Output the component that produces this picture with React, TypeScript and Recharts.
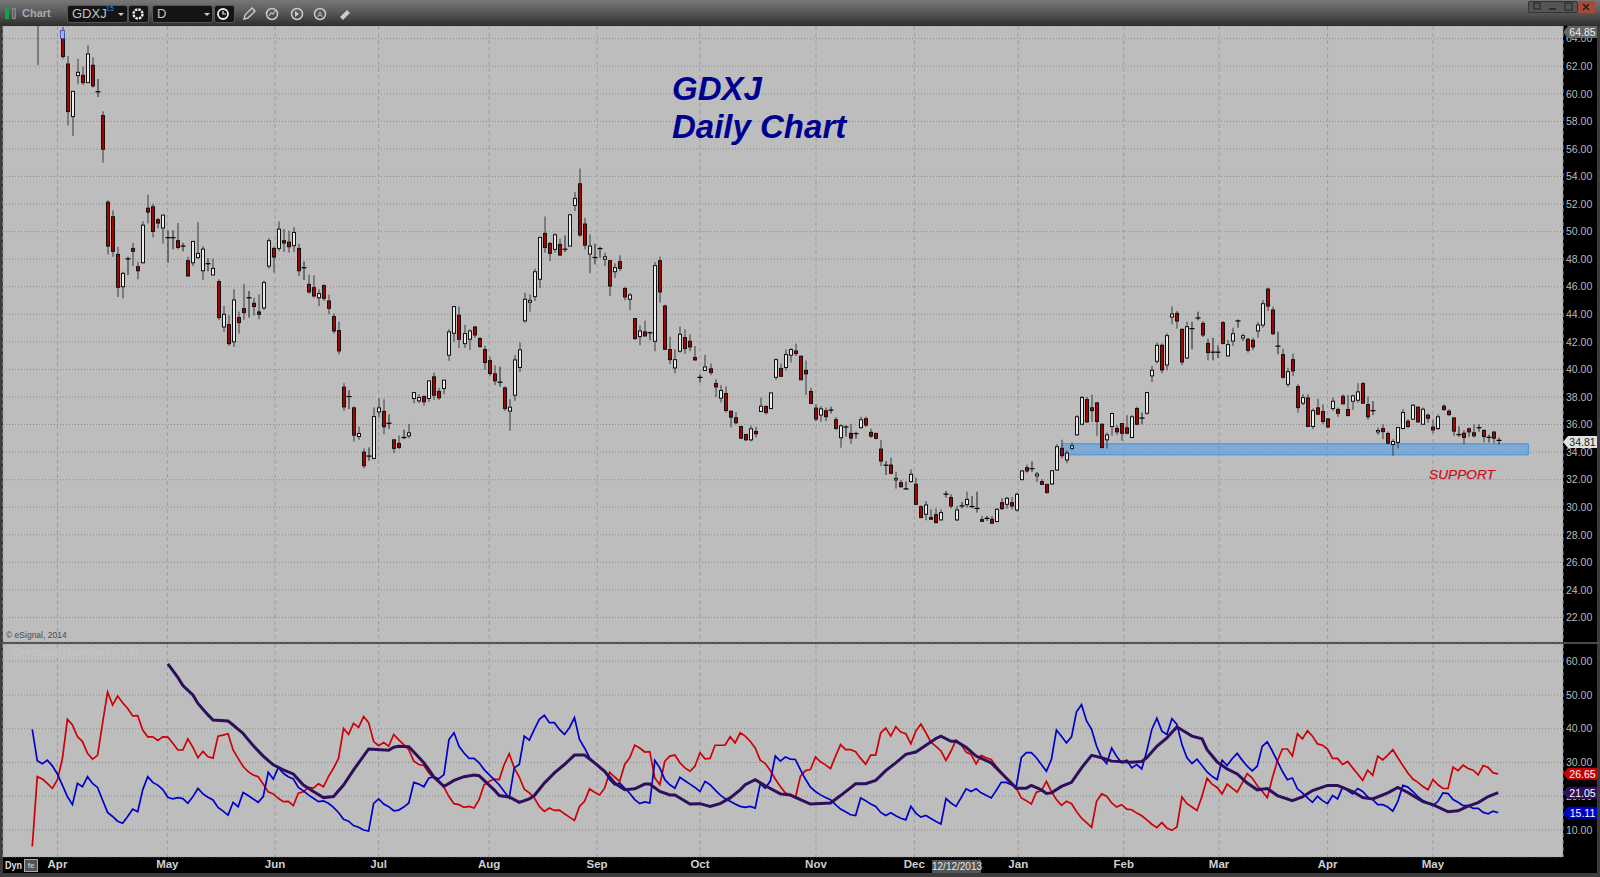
import React from "react";
import { ComposedChart, Bar, Line, XAxis, YAxis, CartesianGrid, ReferenceArea, ReferenceLine, ReferenceDot } from "recharts";

type Row = [number, number, number, number] | null; // open, high, low, close

const ohlcA: Row[] = [
[68,70,62.1,67],null,null,null,null,[64.4,64.85,62.55,62.7],[62.16,62.75,57.7,58.71],[58.35,60.2,56.95,60.18],[61.32,62.53,60.69,61.56],[61.34,61.97,60.64,60.81],
[60.81,63.52,60.8,62.89],[62.07,62.65,60.45,60.57],[60.15,61.08,59.77,60.1],[58.42,58.73,55.01,55.98],[52.14,52.26,48.35,48.95],[51.08,51.54,48.18,48.57],[48.35,48.9,45.26,45.96],[46.0,47.09,45.16,46.97],[47.98,48.18,46.85,48.02],[48.78,49.17,47.5,48.57],
[47.45,47.8,46.54,47.16],[47.74,50.74,47.7,50.47],[51.7,52.67,50.6,51.42],[51.8,52.02,49.58,50.01],[50.86,51.0,50.23,50.62],[50.26,51.2,49.14,51.2],[49.56,50.09,47.74,49.56],[49.56,50.09,48.71,49.54],[49.34,50.62,48.71,48.85],[48.95,49.19,48.57,48.93],
[47.89,48.18,46.73,46.78],[47.74,49.29,47.5,49.29],[48.11,50.69,48.03,48.42],[47.16,48.95,46.49,48.73],[47.67,48.06,47.12,47.65],[46.85,48.03,46.85,47.33],[46.37,46.54,43.59,43.76],[43.08,44.6,42.72,44.0],[43.25,43.95,41.7,41.87],[42.0,45.81,41.63,45.04],
[43.76,44.19,42.6,43.4],[44.41,46.2,43.59,44.12],[45.2,45.69,43.76,45.2],[44.8,45.2,43.93,44.56],[44.17,45.45,43.64,44.0],[44.46,46.44,44.31,46.3],[47.5,49.53,47.31,49.34],[48.78,48.9,47.02,48.15],[48.78,50.74,48.59,50.18],[49.34,50.2,48.52,49.17],
[49.24,50.06,48.47,48.9],[48.98,50.33,48.52,49.94],[48.78,49.12,46.78,47.16],[47.38,47.84,46.49,47.36],[46.17,46.87,45.5,45.62],[45.93,46.83,45.2,45.33],[45.2,45.81,44.6,45.5],[46.08,46.17,44.97,45.16],[44.97,45.43,44.0,44.43],[43.83,44.07,42.6,42.79],
[42.82,43.47,41.1,41.34],[38.71,39.0,37.0,37.28],[38.03,38.49,37.12,38.01],[37.21,37.31,34.77,35.23],[35.13,35.86,34.89,35.35],[34.0,34.27,32.82,33.01],[33.71,34.34,33.37,33.69],[33.54,37.24,33.49,36.58],[36.92,37.91,36.51,37.21],[36.95,37.84,35.3,35.84],
[36.09,36.73,35.67,36.07],[34.89,34.94,33.93,34.27],[34.63,35.2,34.22,34.34],
];
const ohlcB: Row[] = [
[35.06,35.62,34.94,35.04],[35.18,36.05,35.0,35.4],[37.89,38.32,37.55,38.32],[37.72,38.2,37.55,37.96],[38.03,38.13,37.36,37.65],[37.89,39.22,37.65,39.17],[39.46,39.77,37.79,38.13],
[38.4,38.66,37.79,37.94],[38.61,39.22,38.2,39.22],[41.03,42.91,40.62,42.72],[42.62,44.56,42.0,44.56],[43.93,44.56,41.56,42.19],[41.87,43.23,41.56,42.6],[42.19,42.91,41.42,42.79],[43.08,43.15,42.29,42.5],[42.24,42.36,41.56,41.66],[41.44,41.7,39.97,40.5],
[40.64,40.93,39.53,39.7],[39.68,40.3,38.86,39.17],[39.07,40.2,38.75,39.05],[38.66,38.76,36.99,37.16],[36.97,37.84,35.55,37.26],[38.13,41.03,37.72,40.69],[40.14,41.95,39.82,41.42],[43.52,45.57,43.4,45.09],[44.87,45.43,44.19,45.01],[45.28,47.31,44.97,47.09],
[46.54,49.63,45.91,49.58],[49.87,51.1,48.47,48.85],[49.14,49.24,47.86,48.42],[48.71,49.87,48.47,49.77],[49.07,49.48,48.23,48.3],[48.72,49.72,48.52,48.7],[48.95,51.27,48.95,51.22],[51.9,52.86,51.49,52.41],[53.47,54.58,49.63,49.75],[50.55,51.0,48.71,49.02],
[48.37,49.8,46.97,48.95],[48.12,49.12,47.62,48.1],[48.77,48.9,48.1,48.75],[48.0,48.47,47.5,48.18],[47.89,47.89,45.33,46.05],[47.09,47.7,46.63,47.38],[47.82,48.28,47.14,47.33],[45.88,45.96,45.01,45.26],[45.09,45.52,44.29,45.4],[43.69,43.69,42.14,42.24],
[42.38,43.2,41.75,42.79],[42.72,43.54,42.36,42.43],[42.66,42.74,42.12,42.64],[42.04,47.79,41.32,47.53],[47.89,48.18,44.85,45.62],[44.6,44.7,41.46,41.46],[41.44,42.38,40.38,40.71],[40.11,41.46,39.72,40.71],[41.32,43.11,41.22,42.55],[42.31,42.91,41.13,41.51],
[42.04,42.55,41.32,41.63],[40.86,41.7,40.64,40.69],[39.42,39.65,39.05,39.4],[39.92,41.05,39.89,40.18],[40.04,40.43,39.58,39.77],[38.98,39.29,38.0,38.73],[37.91,38.86,37.6,38.47],[38.25,38.76,36.87,37.02],[36.97,37.0,35.79,36.54],[36.49,36.9,36.03,36.13],
[35.86,35.86,34.94,35.01],[35.28,35.28,34.82,34.89],[34.89,35.93,34.77,35.69],[35.5,35.84,35.06,35.33],[36.95,37.96,36.95,37.33],[37.31,37.4,36.73,36.87],[37.16,38.3,37.16,38.3],[39.43,40.79,39.24,40.71],[40.06,40.43,39.46,39.5],[40.14,41.46,39.92,41.08],
[41.03,41.54,40.5,41.44],[41.34,41.87,40.98,41.15],[40.96,41.0,39.25,39.25],
];
const ohlcC: Row[] = [
[39.92,40.65,38.14,39.68],[38.4,38.67,37.48,37.53],[37.19,37.48,36.25,36.4],[36.69,37.34,36.2,37.14],[37.0,37.24,36.25,36.57],[37.05,37.29,36.8,37.03],[36.35,36.54,35.6,35.72],[35.04,36.01,34.32,35.91],
[35.82,35.94,35.12,35.8],[35.36,36.06,34.61,35.02],[35.34,35.48,34.97,35.32],[35.77,36.57,35.72,36.35],[36.42,36.57,35.84,35.96],[35.43,35.7,35.04,35.16],[35.36,35.36,34.92,35.0],[34.22,34.87,32.99,33.35],[33.05,33.35,32.34,33.03],[33.06,33.6,32.39,32.46],
[31.98,32.58,31.35,32.1],[31.78,31.98,31.42,31.49],[31.33,31.86,31.25,31.31],[31.86,32.75,31.78,32.39],[31.66,32.14,30.16,30.21],[30.04,30.14,29.2,29.25],[29.49,30.45,29.05,30.16],[29.25,29.85,29.08,29.13],[29.46,29.92,28.84,28.88],[29.08,29.85,29.05,29.61],
[30.95,31.18,30.7,30.93],[30.7,30.95,29.92,30.09],[29.08,30.09,29.0,29.8],[30.1,30.38,29.92,30.08],[30.19,31.13,29.97,30.57],[30.05,30.82,29.92,30.03],[29.91,31.13,29.61,29.89],[29.1,29.37,28.96,28.98],[29.19,29.37,29.0,29.17],[29.13,29.37,28.81,28.84],
[28.96,29.92,28.91,29.85],[30.33,30.67,29.8,29.9],[30.21,30.74,29.9,30.65],[30.33,30.74,29.85,30.09],[29.8,31.06,29.68,30.94],[32.0,32.7,31.98,32.63],[32.87,33.09,32.51,32.63],[32.8,33.33,32.56,32.78],[32.27,32.56,31.83,32.41],[31.86,32.05,31.61,31.66],
[31.66,31.66,31.0,31.06],[31.69,32.7,31.61,32.65],[32.7,34.58,32.63,34.39],[34.27,34.9,33.55,33.74],[33.43,34.13,33.18,33.93],[34.27,34.68,34.15,34.46],[35.25,36.68,35.23,36.56],[36.02,38.08,35.95,37.96],[37.81,38.0,36.14,36.19],[37.21,38.17,36.19,37.01],
[37.57,37.64,35.18,36.22],[36.02,36.07,34.28,34.33],[34.89,35.42,34.26,35.25],[35.86,36.87,35.18,36.8],[35.71,35.95,35.23,35.47],[36.07,36.07,34.82,35.37],[35.76,36.68,35.3,35.37],[35.06,36.68,35.01,36.56],[37.16,37.3,35.95,36.02],[36.47,36.87,36.02,36.45],[36.82,38.37,36.72,38.32],
];
const ohlcD: Row[] = [
[39.53,40.25,39.09,39.94],[40.59,41.94,40.42,41.75],[41.75,41.89,39.72,39.96],[40.32,42.62,39.94,42.45],[43.8,44.57,43.27,44.02],[44.07,44.24,42.96,43.51],[42.91,42.96,40.3,40.54],[40.83,43.46,40.78,43.1],[42.96,43.46,41.46,42.94],
[43.73,44.19,43.56,43.71],[43.34,43.51,42.35,42.5],[41.89,42.23,40.66,41.22],[41.25,42.3,40.66,41.23],[41.25,41.75,40.83,41.23],[43.39,43.51,41.82,41.89],[40.98,42.14,40.93,41.8],[42.06,43.03,41.7,42.59],[43.52,43.63,43.03,43.5],[42.28,42.59,42.06,42.45],
[42.18,42.3,41.22,41.39],[42.11,42.3,41.39,41.63],[42.79,43.44,42.3,43.22],[43.22,45.03,43.03,44.77],[45.83,45.93,44.24,44.6],[44.31,44.55,42.5,42.59],[41.69,42.74,41.1,41.67],[41.07,41.5,39.33,39.43],[38.92,40.13,38.75,39.84],[40.71,41.14,39.53,39.89],
[38.75,38.92,36.87,37.23],[37.55,38.2,37.4,37.96],[37.93,38.2,35.83,35.86],[35.86,37.16,35.66,37.01],[37.21,37.88,36.68,36.75],[36.94,37.47,36.02,36.22],[36.41,36.43,35.73,35.83],[37.16,37.98,36.99,37.69],[37.09,37.23,36.56,36.82],[38.05,38.17,37.47,37.5],
[37.09,38.13,36.6,36.65],[37.69,38.17,37.06,38.08],[37.76,39.0,37.59,38.37],[38.97,39.09,37.5,37.55],[37.45,38.03,36.34,36.56],[37.01,37.71,36.68,36.99],[35.47,35.78,35.25,35.57],[35.71,36.02,34.94,35.49],[35.35,35.49,34.57,34.65],[34.55,34.94,33.73,34.77],
[34.7,35.83,34.26,35.78],[35.71,37.11,35.66,36.87],[36.24,36.39,35.73,35.86],[36.39,37.47,36.34,37.4],[37.26,37.3,36.14,36.19],[36.02,37.23,35.98,37.11],[36.68,36.8,36.14,36.46],[35.81,36.34,35.37,35.61],[35.71,36.75,35.61,36.56],[37.33,37.47,36.99,37.09],
[36.97,37.11,36.63,36.72],[36.48,36.53,35.18,35.52],[35.27,35.86,35.1,35.23],[35.37,35.59,34.57,35.06],[35.69,35.78,35.11,35.47],[35.4,36.02,35.06,35.18],[35.77,36.02,35.49,35.74],[35.57,35.66,34.7,35.13],[35.07,35.28,34.7,35.04],[35.45,35.54,34.65,35.01],[34.85,35.06,34.57,34.81],
];

// Directional lines: one value per bar, starting one bar before the first candle
const redLine = [
5.1,25.8,25.1,23.8,22.3,24.8,31.1,42.8,41.1,37.7,36.2,32.7,31.0,32.1,41.6,50.9,47.0,49.7,47.7,46.0,43.8,43.9,39.6,37.6,37.6,36.5,37.6,37.5,35.7,33.7,33.7,37.0,34.5,31.4,33.3,31.7,31.3,37.8,38.1,38.5,33.7,31.2,28.8,27.3,26.3,25.8,23.6,21.3,20.7,19.4,18.4,18.5,17.2,20.9,21.3,22.6,22.4,23.7,22.8,25.8,28.3,31.2,40.1,38.3,41.6,40.4,43.6,41.8,36.2,35.0,35.9,34.8,38.3,36.7,
35.3,33.8,30.4,29.4,29.1,26.9,25.4,24.4,22.7,19.9,17.8,17.5,16.7,17.0,16.5,19.0,23.4,24.4,25.1,24.9,29.4,32.6,28.4,25.7,22.1,21.0,19.5,17.0,15.5,16.5,15.8,15.9,14.8,13.8,12.8,17.0,18.5,22.2,21.2,20.4,22.4,27.1,25.7,24.4,29.4,31.4,35.1,34.3,33.1,33.2,25.4,23.4,30.4,31.9,32.2,29.9,28.4,27.4,28.9,32.9,31.1,31.2,35.1,35.1,35.1,37.6,35.8,38.8,37.8,36.3,34.3,30.7,29.7,27.6,
25.1,22.9,21.0,20.2,19.5,25.9,27.6,27.9,31.6,30.2,29.3,28.2,31.9,35.3,33.8,33.8,33.2,31.2,29.5,32.2,32.2,38.8,40.2,37.8,40.6,39.0,38.5,35.5,39.3,41.4,38.8,36.0,34.8,33.4,30.6,33.4,36.6,35.3,33.1,32.4,29.6,32.1,31.4,30.9,28.9,27.2,25.4,23.9,22.4,19.5,18.7,17.7,21.2,21.6,24.4,21.4,19.0,17.3,18.5,17.8,15.5,13.5,12.2,10.8,18.5,20.7,20.0,18.0,16.8,17.5,16.2,16.0,15.0,14.2,13.0,11.7,10.7,12.2,10.6,
9.9,10.9,19.8,17.8,16.8,15.8,20.0,25.3,23.6,22.6,20.7,23.6,22.4,21.2,23.9,26.7,25.4,23.2,21.4,19.6,25.4,30.4,34.0,34.0,31.9,38.5,37.0,39.4,37.8,35.5,35.1,34.0,31.2,31.2,29.4,30.3,28.4,26.6,24.7,27.7,26.2,31.9,30.8,32.2,33.8,31.4,29.1,26.9,25.1,24.1,22.9,21.9,24.9,23.4,22.3,22.3,28.6,27.6,29.2,28.2,27.7,26.3,29.1,28.5,26.9,26.65,
];
const blueLine = [
39.8,30.5,29.6,30.7,29.0,26.6,23.3,19.9,17.5,23.8,22.8,25.8,23.8,22.6,18.9,15.2,14.0,12.6,12.0,14.0,16.2,15.4,21.9,25.8,24.1,23.3,22.0,19.7,19.2,19.6,19.3,17.9,19.9,22.3,20.7,19.7,18.9,16.7,15.6,14.4,18.2,16.9,21.1,20.2,19.2,18.2,19.9,27.1,25.1,28.5,26.8,25.8,25.1,22.6,21.6,20.4,19.4,18.4,18.6,17.9,16.7,15.2,13.2,12.6,11.3,10.8,10.0,9.7,17.9,19.2,17.7,16.9,15.7,15.9,
16.8,18.0,24.1,23.6,22.8,25.4,25.7,25.2,26.4,36.8,38.8,34.8,32.8,31.2,31.2,29.9,27.9,26.4,24.9,23.4,21.4,19.5,28.4,29.4,37.8,36.6,39.8,42.8,44.0,41.8,41.8,39.8,38.3,40.3,43.3,36.8,34.3,31.4,29.9,28.7,27.4,24.9,23.4,23.9,22.4,20.9,19.0,17.8,18.3,18.0,30.6,28.4,24.9,23.4,22.4,25.6,24.6,23.6,22.6,21.4,24.4,23.4,21.9,20.4,19.3,18.5,17.7,17.0,16.7,17.0,16.5,23.7,22.4,24.5,31.9,30.4,
31.6,31.0,30.9,27.9,25.1,22.7,21.4,20.4,19.6,19.0,17.5,16.2,15.4,14.5,14.3,19.5,18.7,17.7,17.0,15.2,14.3,15.1,14.2,13.5,13.0,17.0,15.0,13.8,14.3,13.4,12.5,11.8,19.3,18.0,17.0,19.5,22.2,21.4,22.2,21.0,20.3,19.5,21.7,24.1,24.1,23.4,22.9,31.4,32.9,32.9,31.4,29.4,27.4,30.9,39.6,37.8,35.8,37.6,45.0,47.1,42.3,39.8,34.8,31.4,29.7,34.3,31.8,29.9,30.7,28.4,29.4,28.1,33.4,39.8,43.1,39.3,38.3,
43.0,41.3,35.3,31.4,29.7,31.0,29.1,27.2,25.9,24.9,30.7,29.1,31.1,32.7,30.7,28.9,27.5,28.9,34.8,36.1,33.4,30.4,27.4,24.9,25.4,22.2,21.0,19.5,18.2,20.0,18.7,17.8,20.2,19.2,22.7,21.7,20.7,22.3,21.4,19.8,19.0,17.5,17.5,16.8,15.6,18.5,23.2,22.7,21.4,19.9,18.7,18.0,17.2,18.5,21.0,20.8,19.0,18.2,17.2,17.2,16.4,16.4,15.2,14.8,15.6,15.11,
];
// ADX turning points: [bar, value]
const purplePoints: [number, number][] = [
[26,59.2],[28,55.2],[29,52.8],[31,50.0],[32,47.5],[34,44.1],[35,42.6],[38,42.3],[39,41.1],[41,38.6],[43,35.0],[45,31.9],[47,29.3],[49,27.8],[51,26.6],[53,23.3],[55,21.4],[57,19.6],[59,19.9],[61,23.3],[63,27.8],[66,34.0],[70,33.6],[71,34.5],[72,34.8],[74,34.7],[75,33.1],[77,29.9],[78,27.9],[79,25.7],[81,22.9],[83,24.7],[85,25.8],[87,26.3],[88,26.1],[89,24.7],[91,21.9],[92,20.2],[94,19.8],[96,18.2],[98,19.2],[99,20.2],[101,23.9],[103,26.9],[105,29.4],[107,32.2],[109,32.2],[111,29.9],[113,27.4],[115,23.9],[117,21.9],[119,22.2],[121,23.6],[122,23.6],[124,21.4],[126,20.4],[127,20.4],[128,19.5],[130,17.7],[132,17.8],[134,17.0],[136,17.8],[138,19.5],[140,21.9],[141,23.4],[143,24.9],[145,23.1],[148,20.7],[150,20.4],[152,19.0],[154,17.7],[158,18.0],[160,20.2],[163,23.7],[165,23.7],[167,24.7],[169,27.6],[171,29.9],[173,32.4],[175,33.1],[177,35.1],[179,37.1],[180,37.8],[182,36.3],[183,36.3],[185,34.5],[187,31.9],[190,29.9],[192,26.9],[195,22.4],[197,22.4],[198,23.2],[200,21.9],[201,20.8],[202,21.0],[204,22.9],[206,24.1],[208,28.4],[210,32.1],[212,31.4],[214,30.4],[218,30.1],[220,30.3],[221,31.4],[223,34.8],[225,37.3],[227,40.5],[228,39.6],[230,37.8],[232,37.0],[233,33.8],[235,30.2],[237,28.1],[239,26.6],[241,23.9],[243,21.9],[245,22.3],[247,20.2],[250,18.7],[252,19.8],[254,21.7],[257,23.2],[259,23.2],[262,21.4],[264,19.6],[266,19.2],[269,21.0],[271,22.6],[273,21.1],[276,18.4],[278,17.5],[281,15.4],[283,15.7],[285,17.1],[287,18.1],[289,19.9],[291,21.05],
];

const monthTicks = [4.02, 25.9, 47.35, 68.0, 90.0, 111.5, 132.0, 155.1, 174.7, 195.4, 216.4, 235.4, 257.0, 278.0];
const monthNames = ["Apr", "May", "Jun", "Jul", "Aug", "Sep", "Oct", "Nov", "Dec", "Jan", "Feb", "Mar", "Apr", "May"];
const priceTicks = [22,24,26,28,30,32,34,36,38,40,42,44,46,48,50,52,54,56,58,60,62,64];
const dmiTicks = [10,20,30,40,50,60];
const xDomain: [number, number] = [-6.83, 303.9];
const priceDomain: [number, number] = [20.22, 64.92];
const dmiDomain: [number, number] = [2, 65.1];
const support = { fromBar: 204.06, toBar: 297, low: 33.8, high: 34.6 };

const allRows = [...ohlcA, ...ohlcB, ...ohlcC, ...ohlcD];
const priceData = allRows.map((r, i) => ({
  idx: i,
  open: r ? r[0] : null,
  high: r ? r[1] : null,
  low: r ? r[2] : null,
  close: r ? r[3] : null,
}));
const purpleMap = new Map(purplePoints);
const dmiData = redLine.map((v, k) => ({
  idx: k - 1,
  red: v,
  blue: blueLine[k],
  purple: purpleMap.has(k - 1) ? purpleMap.get(k - 1) : null,
}));

function Candle(props: any) {
  const { x, y, width, height, payload } = props;
  if (!payload || payload.high == null || height == null) return null;
  const { open, high, low, close } = payload;
  const py = (v: number) => y + ((high - v) / (high - low)) * height;
  const cx = Math.round(x + width / 2);
  const top = py(Math.max(open, close));
  const bot = py(Math.min(open, close));
  const down = close < open;
  const doji = Math.abs(open - close) < 0.05;
  return (
    <g>
      <line x1={cx} x2={cx} y1={y} y2={y + height} stroke={doji ? "#1c1c1c" : "#3a3a3a"} strokeWidth={1} />
      {doji ? (
        <line x1={cx - 2.5} x2={cx + 2.5} y1={top} y2={top} stroke="#000" strokeWidth={1.2} />
      ) : (
        <rect x={cx - 1.5} y={top} width={3} height={Math.max(bot - top, 1.5)} fill={down ? "#a80000" : "#ececec"} stroke="#111" strokeWidth={1} />
      )}
    </g>
  );
}

function Chip({ viewBox, text, bg, fg, dy = 0 }: any) {
  const px = viewBox.x + viewBox.width;
  const cy = viewBox.y + dy;
  return (
    <g>
      <polygon points={`${px},${cy} ${px + 5},${cy - 6} ${px + 34},${cy - 6} ${px + 34},${cy + 6} ${px + 5},${cy + 6}`} fill={bg} />
      <text x={px + 19.5} y={cy + 4} textAnchor="middle" fontSize={10.5} fontFamily="Liberation Sans, Arial, sans-serif" fill={fg}>{text}</text>
    </g>
  );
}

const axisTick = { fill: "#b6babe", fontSize: 10.5, fontFamily: "Liberation Sans, Arial, sans-serif" };
const fmt = (v: number) => v.toFixed(2);

function Btn({ x, w, children }: any) {
  return (
    <div style={{ position: "absolute", left: x, top: 5, width: w, height: 18, background: "#141414", border: "1px solid #555", borderRadius: 3, boxSizing: "border-box", color: "#c4c4c4", fontSize: 13, lineHeight: "16px", paddingLeft: 4 }}>{children}</div>
  );
}

function Toolbar() {
  return (
    <div style={{ position: "absolute", left: 0, top: 0, width: 1600, height: 26, background: "linear-gradient(#777 0%, #5e5e5e 40%, #2e2e2e 100%)", fontFamily: "Liberation Sans, Arial, sans-serif", zIndex: 5 }}>
      <div style={{ position: "absolute", left: 5, top: 8, width: 4, height: 11, background: "#18a050" }} />
      <div style={{ position: "absolute", left: 12, top: 8, width: 4, height: 11, background: "#666", border: "1px solid #888", boxSizing: "border-box" }} />
      <div style={{ position: "absolute", left: 22, top: 7, color: "#aaa", fontWeight: 700, fontSize: 11 }}>Chart</div>
      <Btn x={67} w={61}>GDXJ</Btn>
      <div style={{ position: "absolute", left: 106, top: 5, color: "#2a8ce8", fontSize: 7 }}>15</div>
      <div style={{ position: "absolute", left: 118, top: 13, width: 0, height: 0, borderLeft: "3px solid transparent", borderRight: "3px solid transparent", borderTop: "3px solid #ccc" }} />
      <Btn x={128} w={21}> </Btn>
      <Btn x={152} w={61}>D</Btn>
      <div style={{ position: "absolute", left: 204, top: 13, width: 0, height: 0, borderLeft: "3px solid transparent", borderRight: "3px solid transparent", borderTop: "3px solid #ccc" }} />
      <Btn x={214} w={21}> </Btn>
      <svg style={{ position: "absolute", left: 0, top: 0 }} width={400} height={26}>
        <circle cx={138} cy={14} r={4.5} fill="none" stroke="#eee" strokeWidth={2.4} strokeDasharray="2.5 1" />
        <circle cx={223} cy={14} r={5} fill="none" stroke="#eee" strokeWidth={1.8} />
        <path d="M223 11v3h3" fill="none" stroke="#eee" strokeWidth={1.2} />
        <path d="M244 19l1-4 7-7 3 3-7 7z" fill="none" stroke="#ccc" strokeWidth={1.4} />
        <circle cx={272} cy={14} r={5.5} fill="none" stroke="#ccc" strokeWidth={1.5} />
        <path d="M269 16l2-3 2 1 2-3" fill="none" stroke="#ccc" strokeWidth={1.1} />
        <circle cx={297} cy={14} r={5.5} fill="none" stroke="#ccc" strokeWidth={1.5} />
        <path d="M295 11l4 3-4 3z" fill="#ccc" />
        <circle cx={320} cy={14} r={5.5} fill="none" stroke="#ccc" strokeWidth={1.5} />
        <text x={320} y={17} textAnchor="middle" fontSize={8} fill="#ccc">A</text>
        <path d="M340 17l7-7 3 3-7 7z" fill="#ccc" />
      </svg>
      <div style={{ position: "absolute", left: 1528, top: 1, width: 50, height: 12, background: "#555", border: "1px solid #333", boxSizing: "border-box", borderRadius: 2 }} />
      <svg style={{ position: "absolute", left: 1528, top: 1 }} width={68} height={12}>
        <rect x={6} y={2} width={6} height={6} fill="none" stroke="#222" />
        <path d="M21 8h7" stroke="#222" strokeWidth={1.5} />
        <rect x={37} y={2} width={7} height={7} fill="none" stroke="#222" />
        <rect x={50} y={0} width={17} height={12} fill="#a84a38" rx={1} />
        <path d="M55 3l6 6M61 3l-6 6" stroke="#222" strokeWidth={1.6} />
      </svg>
    </div>
  );
}

export default function App() {
  return (
    <div style={{ position: "fixed", left: 0, top: 0, width: 1600, height: 877, background: "#000", overflow: "hidden" }}>
      <div style={{ position: "absolute", left: 3, top: 26, width: 1560, height: 616, background: "#bdbdbd" }} />
      <div style={{ position: "absolute", left: 3, top: 644, width: 1560, height: 213, background: "#bdbdbd" }} />
      <div style={{ position: "absolute", left: 0, top: 26, width: 3, height: 851, background: "#3c3c3c" }} />
      <div style={{ position: "absolute", left: 1597, top: 26, width: 3, height: 851, background: "#3c3c3c" }} />
      <div style={{ position: "absolute", left: 0, top: 873, width: 1600, height: 4, background: "#3c3c3c" }} />
      <div style={{ position: "absolute", left: 0, top: 642, width: 1600, height: 2, background: "#4a4a4a" }} />

      <div style={{ position: "absolute", left: 0, top: 0 }}>
        <ComposedChart width={1600} height={643} data={priceData} margin={{ top: 26, right: 0, bottom: 1, left: 3 }}>
          <CartesianGrid horizontal vertical={false} stroke="#8c8c8c" strokeDasharray="1 2" />
          <CartesianGrid horizontal={false} vertical stroke="#9e9e9e" strokeDasharray="4 3" />
          <XAxis dataKey="idx" type="number" domain={xDomain} ticks={monthTicks} interval={0} allowDataOverflow hide />
          <YAxis orientation="right" width={37} domain={priceDomain} ticks={priceTicks} interval={0} allowDataOverflow tick={axisTick} tickFormatter={fmt} axisLine={false} tickLine={false} tickSize={0} tickMargin={3} />
          <ReferenceArea x1={support.fromBar} x2={support.toBar} y1={support.low} y2={support.high} fill="#4a9be8" fillOpacity={0.55} stroke="#3d90e8" strokeWidth={1} />
          <Bar dataKey={(d: any) => (d.high == null ? null : [d.low, d.high])} barSize={4} shape={<Candle />} isAnimationActive={false} />
          <ReferenceDot x={5} y={64.3} r={0} shape={(p: any) => <rect x={p.cx - 2} y={p.cy - 4} width={4} height={8} fill="#aab0d8" stroke="#3050c0" strokeWidth={0.8} />} />
        </ComposedChart>
      </div>

      <div style={{ position: "absolute", left: 0, top: 643 }}>
        <ComposedChart width={1600} height={234} data={dmiData} margin={{ top: 1, right: 0, bottom: 0, left: 3 }}>
          <CartesianGrid horizontal vertical={false} stroke="#8c8c8c" strokeDasharray="1 2" />
          <CartesianGrid horizontal={false} vertical stroke="#9e9e9e" strokeDasharray="4 3" />
          <XAxis dataKey="idx" type="number" domain={xDomain} ticks={monthTicks} interval={0} allowDataOverflow height={20} axisLine={false} tickLine={false} tickSize={0} tickMargin={3}
            tick={{ fill: "#cdd0d2", fontSize: 11.5, fontWeight: 700, fontFamily: "Liberation Sans, Arial, sans-serif" }}
            tickFormatter={(v: number) => monthNames[monthTicks.indexOf(v)]} />
          <YAxis orientation="right" width={37} domain={dmiDomain} ticks={dmiTicks} interval={0} allowDataOverflow tick={axisTick} tickFormatter={fmt} axisLine={false} tickLine={false} tickSize={0} tickMargin={3} />
          <Line dataKey="red" stroke="#cc0008" strokeWidth={1.7} dot={false} isAnimationActive={false} />
          <Line dataKey="blue" stroke="#0000c8" strokeWidth={1.7} dot={false} isAnimationActive={false} />
          <Line dataKey="purple" stroke="#2e0f5c" strokeWidth={3} dot={false} connectNulls isAnimationActive={false} />
        </ComposedChart>
      </div>

      {/* Value chips sit above the axis numbers, as in the terminal */}
      <div style={{ position: "absolute", left: 0, top: 0 }}>
        <ComposedChart width={1600} height={643} data={priceData} margin={{ top: 26, right: 37, bottom: 1, left: 3 }}>
          <XAxis dataKey="idx" type="number" domain={xDomain} allowDataOverflow hide />
          <YAxis domain={priceDomain} allowDataOverflow hide />
          <ReferenceLine y={34.81} stroke="none" label={(p: any) => <Chip {...p} text="34.81" bg="#dfe3e3" fg="#222" dy={1} />} />
          <ReferenceLine y={64.85} stroke="none" label={(p: any) => <Chip {...p} text="64.85" bg="#666" fg="#f0f0f0" dy={5} />} />
        </ComposedChart>
      </div>
      <div style={{ position: "absolute", left: 0, top: 643 }}>
        <ComposedChart width={1600} height={234} data={dmiData} margin={{ top: 1, right: 37, bottom: 20, left: 3 }}>
          <XAxis dataKey="idx" type="number" domain={xDomain} allowDataOverflow hide />
          <YAxis domain={dmiDomain} allowDataOverflow hide />
          <ReferenceLine y={26.65} stroke="none" label={(p: any) => <Chip {...p} text="26.65" bg="#c80000" fg="#fff" />} />
          <ReferenceLine y={21.05} stroke="none" label={(p: any) => <Chip {...p} text="21.05" bg="#2e0f5c" fg="#fff" />} />
          <ReferenceLine y={15.11} stroke="none" label={(p: any) => <Chip {...p} text="15.11" bg="#0000c8" fg="#fff" />} />
        </ComposedChart>
      </div>

      <Toolbar />

      <div style={{ position: "absolute", left: 672, top: 70, color: "#000090", fontFamily: "Liberation Sans, Arial, sans-serif", fontWeight: 700, fontStyle: "italic", fontSize: 33, lineHeight: "38px", whiteSpace: "pre" }}>{"GDXJ\nDaily Chart"}</div>
      <div style={{ position: "absolute", left: 1429, top: 467, color: "#cc1018", fontFamily: "Liberation Sans, Arial, sans-serif", fontStyle: "italic", fontSize: 13.7, lineHeight: "16px", WebkitTextStroke: "0.25px #cc1018" }}>SUPPORT</div>
      <div style={{ position: "absolute", left: 6, top: 630, color: "#4a4a4a", fontFamily: "Liberation Sans, Arial, sans-serif", fontSize: 8.5, lineHeight: "10px" }}>© eSignal, 2014</div>
      <div style={{ position: "absolute", left: 13, top: 647, color: "#c5c5c5", fontFamily: "Liberation Sans, Arial, sans-serif", fontSize: 10, lineHeight: "12px" }}>Directional Movement (14,0)</div>
      <div style={{ position: "absolute", left: 5, top: 858, color: "#ddd", fontFamily: "Liberation Sans, Arial, sans-serif", fontWeight: 700, fontSize: 11, lineHeight: "14px", transform: "scaleX(0.82)", transformOrigin: "left center" }}>Dyn</div>
      <div style={{ position: "absolute", left: 24, top: 859, width: 14, height: 13, background: "#555", border: "1px solid #aaa", boxSizing: "border-box", color: "#ddd", fontSize: 8, lineHeight: "11px", textAlign: "center", fontFamily: "Liberation Sans, Arial, sans-serif" }}>fe</div>
      <div style={{ position: "absolute", left: 932, top: 860, width: 49, height: 13, background: "#555", color: "#e8e8e8", fontSize: 10, lineHeight: "13px", textAlign: "center", fontFamily: "Liberation Sans, Arial, sans-serif" }}>12/12/2013</div>
    </div>
  );
}
